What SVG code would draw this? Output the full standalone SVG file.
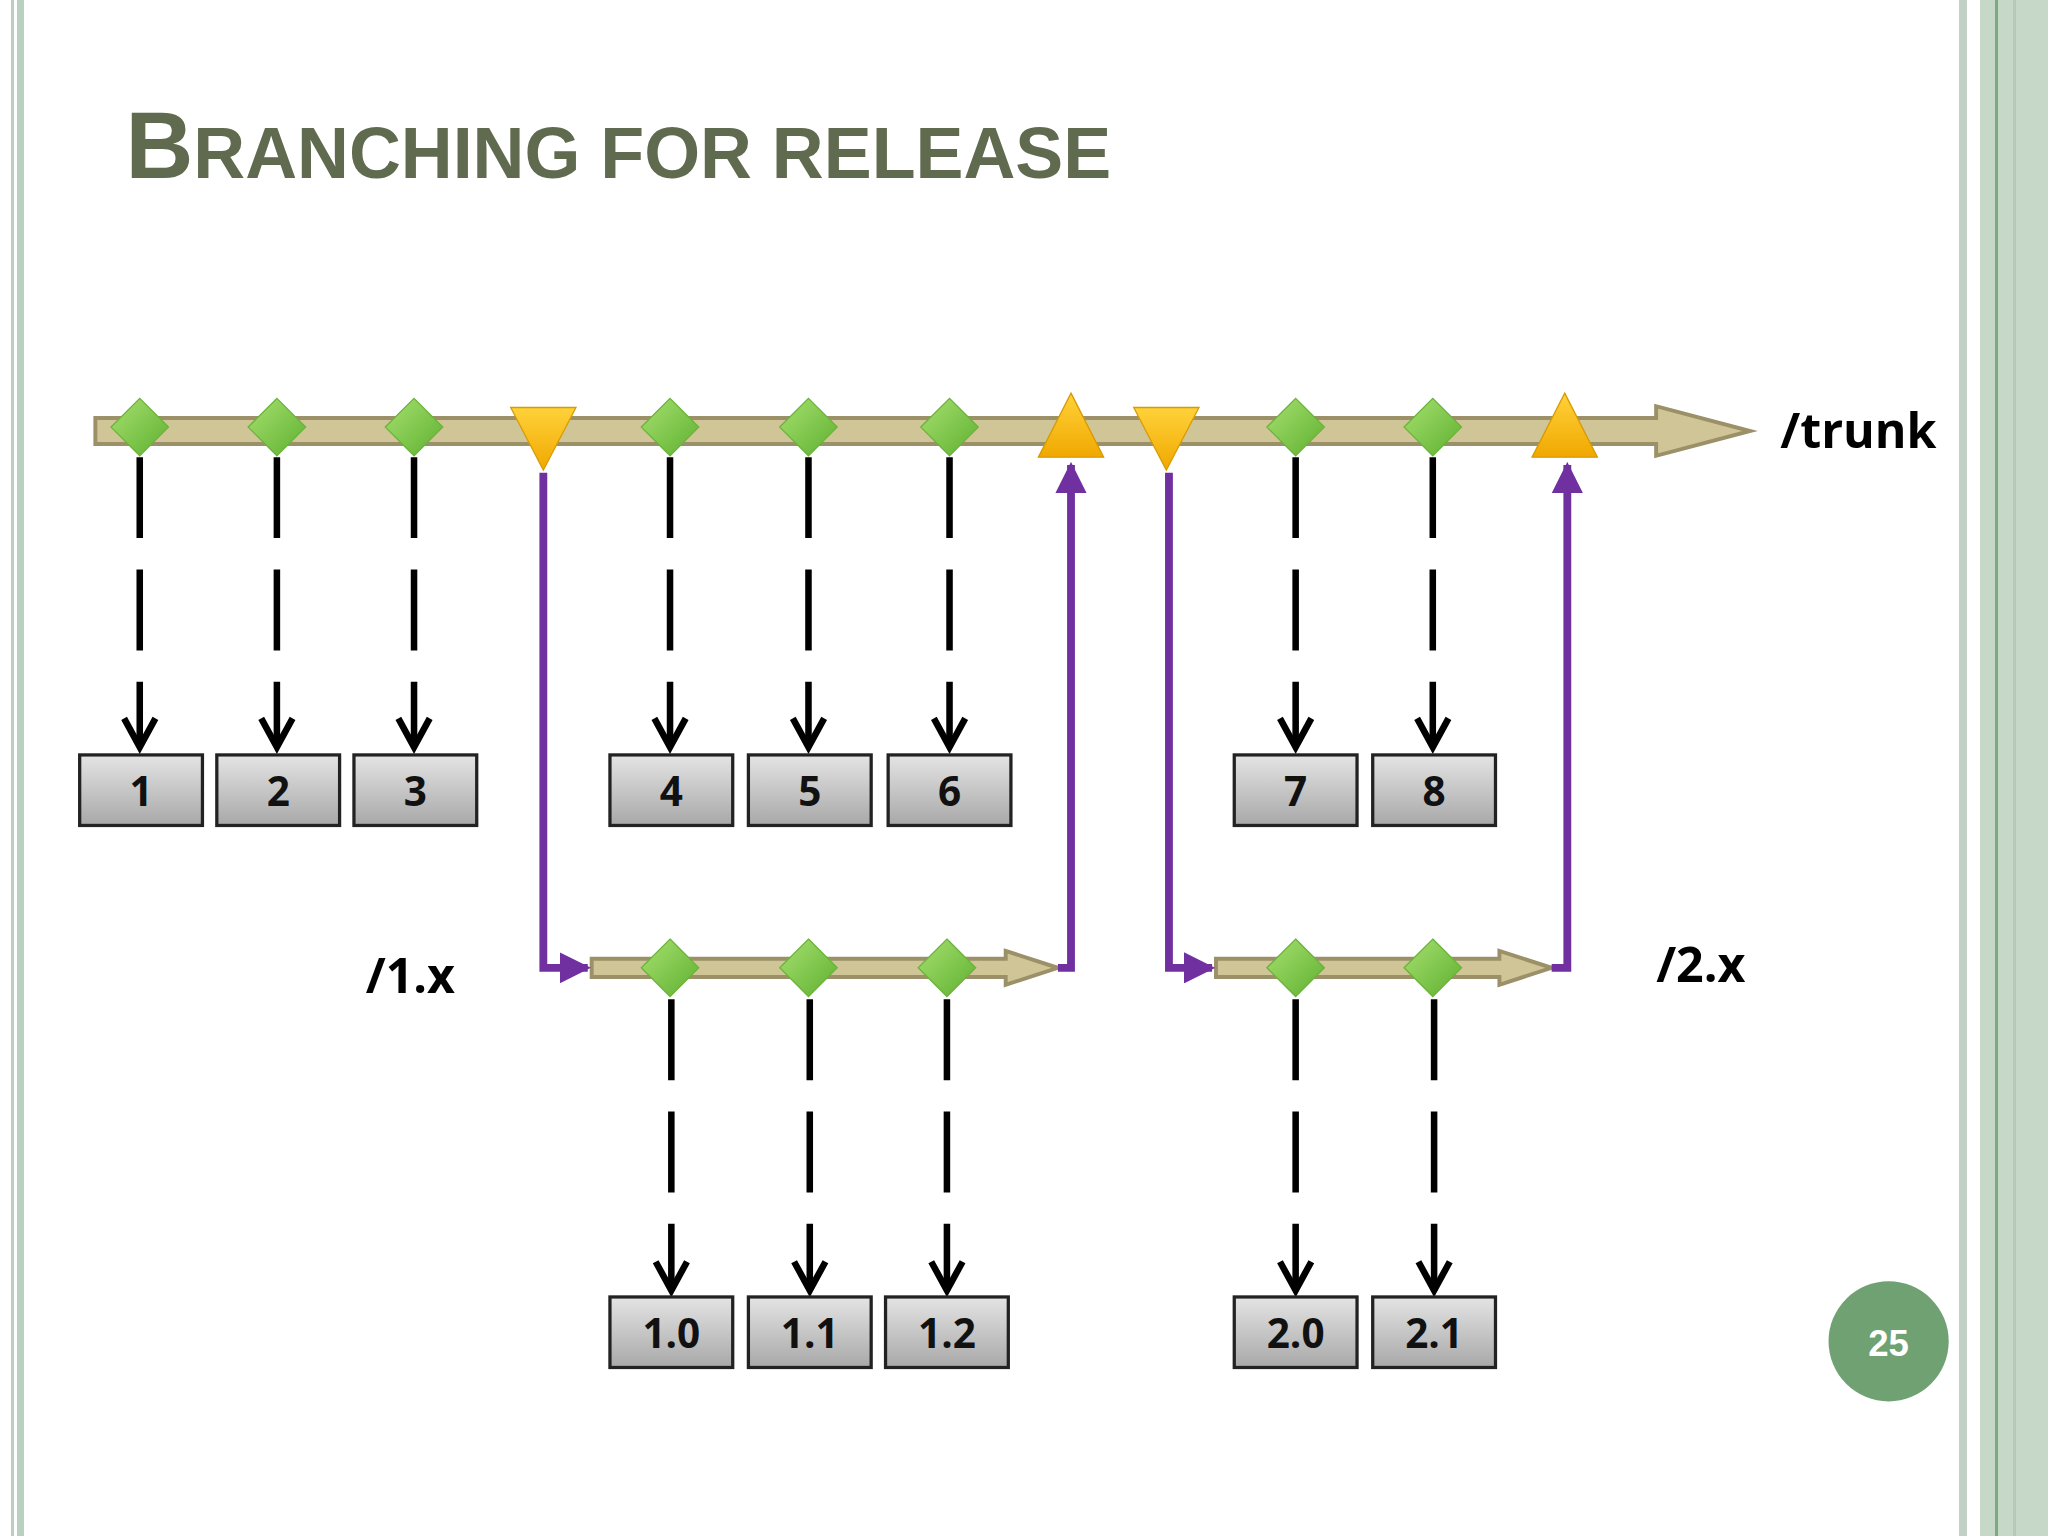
<svg xmlns="http://www.w3.org/2000/svg" width="2048" height="1536" viewBox="0 0 2048 1536">
<defs>
<style>
.bar{fill:#cfc597;stroke:#9b9068;stroke-width:3}
.dash{stroke:#000;stroke-width:5;stroke-dasharray:62 24;fill:none}
.chev{stroke:#000;stroke-width:5;fill:none}
.pur{stroke:#7030a0;stroke-width:6;fill:none}
.box{fill:url(#gb);stroke:#222;stroke-width:2.5}
.bt{font-family:"Open Sans","Liberation Sans",sans-serif;font-weight:bold;font-size:31px;text-anchor:middle;fill:#111}
.lab{font-family:"Open Sans","Liberation Sans",sans-serif;font-weight:bold;font-size:37px;fill:#000}
.dia{fill:url(#gg);stroke:#6bb33a;stroke-width:1}
.tri{fill:url(#gy);stroke:#d89a00;stroke-width:1}
</style>
<linearGradient id="gb" x1="0" y1="0" x2="0" y2="1"><stop offset="0" stop-color="#e4e4e4"/><stop offset="1" stop-color="#a8a8a8"/></linearGradient>
<linearGradient id="gg" x1="0" y1="0" x2="1" y2="1"><stop offset="0" stop-color="#a6e070"/><stop offset="1" stop-color="#5fb030"/></linearGradient>
<linearGradient id="gy" x1="0" y1="0" x2="0" y2="1"><stop offset="0" stop-color="#ffd23a"/><stop offset="1" stop-color="#f0a800"/></linearGradient>
<marker id="pa" viewBox="0 0 10 10" refX="9" refY="5" markerWidth="4" markerHeight="4" orient="auto" markerUnits="strokeWidth"><path d="M0,0L10,5L0,10z" fill="#7030a0"/></marker>
</defs>
<rect width="2048" height="1536" fill="#fff"/>
<rect x="11" y="0" width="3" height="1536" fill="#b9cfc0"/>
<rect x="17" y="0" width="7" height="1536" fill="#b9cfc0"/>
<rect x="1959" y="0" width="8" height="1536" fill="#c3d0c6"/>
<rect x="1980" y="0" width="68" height="1536" fill="#c6d9c9"/>
<rect x="1995" y="0" width="3" height="1536" fill="#7eaa82"/>
<rect x="2013" y="0" width="3" height="1536" fill="#b5cbb8"/>
<g transform="scale(1.3061)">
<text x="96" y="136" font-family="Liberation Sans,Arial,sans-serif" font-weight="bold" fill="#5f6a4e" font-size="55"><tspan font-size="72">B</tspan>RANCHING FOR RELEASE</text>
<g id="trunk">
<path class="bar" d="M73,320H1268V311L1340,330L1268,349V340H73Z"/>
<text class="lab" x="1363" y="343">/trunk</text>
</g>
<g id="branch1">
<path class="bar" d="M453,734H770V728L810,741L770,754V748H453Z"/>
<text class="lab" x="280" y="760">/1.x</text>
</g>
<g id="branch2">
<path class="bar" d="M931,734H1148V728L1188,741L1148,754V748H931Z"/>
<text class="lab" x="1268" y="752">/2.x</text>
</g>
<g id="connectors">
<g class="dash">
<path d="M107,350V572M212,350V572M317,350V572M513,350V572M619,350V572M727,350V572M992,350V572M1097,350V572"/>
<path d="M514,765V988M620,765V988M725,765V988M992,765V988M1098,765V988"/>
</g>
<g class="chev">
<path d="M95,550L107,572L119,550M200,550L212,572L224,550M305,550L317,572L329,550M501,550L513,572L525,550M607,550L619,572L631,550M715,550L727,572L739,550M980,550L992,572L1004,550M1085,550L1097,572L1109,550"/>
<path d="M502,966L514,988L526,966M608,966L620,988L632,966M713,966L725,988L737,966M980,966L992,988L1004,966M1086,966L1098,988L1110,966"/>
</g>
<path class="pur" d="M416,362V741H450" marker-end="url(#pa)"/>
<path class="pur" d="M810,741H820V356" marker-end="url(#pa)"/>
<path class="pur" d="M895,362V741H928" marker-end="url(#pa)"/>
<path class="pur" d="M1188,741H1200V356" marker-end="url(#pa)"/>
</g>
<g id="commits">
<path class="dia" d="M107,305L129,327L107,349L85,327Z"/>
<path class="dia" d="M212,305L234,327L212,349L190,327Z"/>
<path class="dia" d="M317,305L339,327L317,349L295,327Z"/>
<path class="dia" d="M513,305L535,327L513,349L491,327Z"/>
<path class="dia" d="M619,305L641,327L619,349L597,327Z"/>
<path class="dia" d="M727,305L749,327L727,349L705,327Z"/>
<path class="dia" d="M992,305L1014,327L992,349L970,327Z"/>
<path class="dia" d="M1097,305L1119,327L1097,349L1075,327Z"/>
<path class="dia" d="M513,719L535,741L513,763L491,741Z"/>
<path class="dia" d="M619,719L641,741L619,763L597,741Z"/>
<path class="dia" d="M725,719L747,741L725,763L703,741Z"/>
<path class="dia" d="M992,719L1014,741L992,763L970,741Z"/>
<path class="dia" d="M1097,719L1119,741L1097,763L1075,741Z"/>
<path class="tri" d="M391,312H441L416,360Z"/>
<path class="tri" d="M868,312H918L893,360Z"/>
<path class="tri" d="M820,301L845,350H795Z"/>
<path class="tri" d="M1198,301L1223,350H1173Z"/>
</g>
<g id="n1"><rect class="box" x="61" y="578" width="94" height="54"/><text class="bt" x="108" y="617">1</text></g>
<g id="n2"><rect class="box" x="166" y="578" width="94" height="54"/><text class="bt" x="213" y="617">2</text></g>
<g id="n3"><rect class="box" x="271" y="578" width="94" height="54"/><text class="bt" x="318" y="617">3</text></g>
<g id="n4"><rect class="box" x="467" y="578" width="94" height="54"/><text class="bt" x="514" y="617">4</text></g>
<g id="n5"><rect class="box" x="573" y="578" width="94" height="54"/><text class="bt" x="620" y="617">5</text></g>
<g id="n6"><rect class="box" x="680" y="578" width="94" height="54"/><text class="bt" x="727" y="617">6</text></g>
<g id="n7"><rect class="box" x="945" y="578" width="94" height="54"/><text class="bt" x="992" y="617">7</text></g>
<g id="n8"><rect class="box" x="1051" y="578" width="94" height="54"/><text class="bt" x="1098" y="617">8</text></g>
<g id="n10"><rect class="box" x="467" y="993" width="94" height="54"/><text class="bt" x="514" y="1032">1.0</text></g>
<g id="n11"><rect class="box" x="573" y="993" width="94" height="54"/><text class="bt" x="620" y="1032">1.1</text></g>
<g id="n12"><rect class="box" x="678" y="993" width="94" height="54"/><text class="bt" x="725" y="1032">1.2</text></g>
<g id="n20"><rect class="box" x="945" y="993" width="94" height="54"/><text class="bt" x="992" y="1032">2.0</text></g>
<g id="n21"><rect class="box" x="1051" y="993" width="94" height="54"/><text class="bt" x="1098" y="1032">2.1</text></g>
<g id="page"><circle cx="1446" cy="1027" r="46" fill="#6fa173"/><text x="1446" y="1038" font-family="Liberation Sans,Arial,sans-serif" font-weight="bold" font-size="28" fill="#fff" text-anchor="middle">25</text></g>
</g>
</svg>
